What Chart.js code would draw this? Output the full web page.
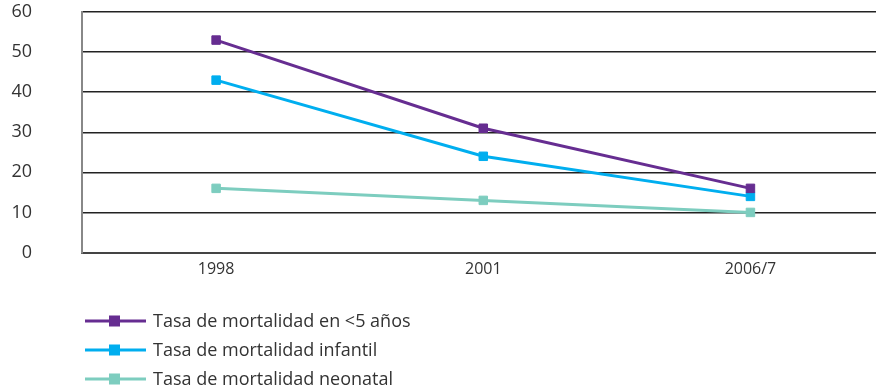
<!DOCTYPE html>
<html>
<head>
<meta charset="utf-8">
<script src="https://cdn.jsdelivr.net/npm/chart.js@4/dist/chart.umd.min.js"></script>
<style>
  html, body { margin: 0; padding: 0; background: #fff; }
  canvas { display: block; }
</style>
</head>
<body>
<canvas id="c" width="876" height="387"></canvas>
<script>
// Mortality rates by survey year
const categories = ['1998', '2001', '2006/7'];
const seriesNames = [
  'Tasa de mortalidad en <5 años',
  'Tasa de mortalidad infantil',
  'Tasa de mortalidad neonatal'
];
const under5 = [53, 31, 16];
const infant = [43, 24, 14];
const neonatal = [16, 13, 10];
const yTicks = [0, 10, 20, 30, 40, 50, 60];

const seriesColors = ['#662d91', '#00aeef', '#7dcdbf'];
const FONT = '"Open Sans", "Noto Sans", sans-serif';
const TEXT = '#333333';

// Legend drawn below the axis: a short line with a square marker, then the label
const lineLegend = {
  id: 'lineLegend',
  afterDraw(chart) {
    const ctx = chart.ctx;
    const x0 = chart.chartArea.left + 3;
    chart.data.datasets.forEach((ds, i) => {
      const y = 321 + i * 29;
      ctx.save();
      ctx.strokeStyle = ds.borderColor;
      ctx.lineWidth = 3;
      ctx.beginPath();
      ctx.moveTo(x0, y);
      ctx.lineTo(x0 + 61, y);
      ctx.stroke();
      ctx.fillStyle = ds.borderColor;
      ctx.fillRect(x0 + 24, y - 5.5, 11, 11);
      ctx.fillStyle = TEXT;
      ctx.font = '18px ' + FONT;
      ctx.textBaseline = 'middle';
      ctx.fillText(ds.label, x0 + 68, y + 1);
      ctx.restore();
    });
  }
};

const seriesValues = [under5, infant, neonatal];

new Chart(document.getElementById('c'), {
  type: 'line',
  data: {
    datasets: seriesValues.map((vals, i) => ({
      label: seriesNames[i],
      data: vals.map((v, k) => ({ x: k, y: v })),
      borderColor: seriesColors[i],
      backgroundColor: seriesColors[i],
      borderWidth: 3,
      tension: 0,
      pointStyle: 'rect',
      pointRadius: 6,
      pointBorderWidth: 1,
      pointHoverRadius: 6,
      fill: false,
      clip: false
    }))
  },
  options: {
    responsive: false,
    animation: false,
    layout: { autoPadding: false, padding: { top: 12, right: 0, left: 0, bottom: 108.5 } },
    plugins: {
      legend: { display: false },
      tooltip: { enabled: false }
    },
    scales: {
      x: {
        type: 'linear',
        min: -0.502,
        max: 2.47,
        afterBuildTicks(scale) { scale.ticks = categories.map((c, k) => ({ value: k })); },
        grid: { display: false, drawTicks: false },
        border: { display: true, color: '#444', width: 2 },
        ticks: {
          color: TEXT,
          font: { family: FONT, size: 16 },
          padding: 7,
          callback: (v) => categories[v]
        },
        afterFit(scale) {
          scale.height = 26;
          scale.paddingLeft = 0;
          scale.paddingRight = 0;
        }
      },
      y: {
        min: yTicks[0],
        max: yTicks[yTicks.length - 1],
        afterBuildTicks(scale) { scale.ticks = yTicks.map(v => ({ value: v })); },
        grid: { color: '#222', lineWidth: 1.5, drawTicks: false },
        border: { display: true, color: '#888', width: 2 },
        ticks: { color: TEXT, font: { family: FONT, size: 18 }, padding: 50 },
        afterFit(scale) {
          scale.width = 82;
          scale.paddingTop = 0;
          scale.paddingBottom = 0;
        }
      }
    }
  },
  plugins: [lineLegend]
});
</script>
</body>
</html>
